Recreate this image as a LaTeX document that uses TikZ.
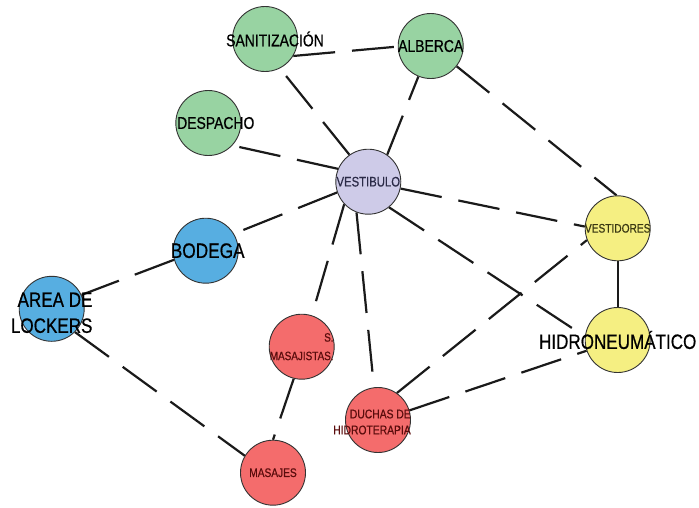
\documentclass[tikz,border=0pt]{standalone}
\usepackage{fontspec}
\newfontfamily\roomfont[FakeStretch=0.82,FakeBold=0.6]{Liberation Sans}
\usetikzlibrary{backgrounds}
\definecolor{rim}{HTML}{333333}
\definecolor{edge}{HTML}{1A1A1A}
\definecolor{mint}{HTML}{98D3A2}
\definecolor{sky}{HTML}{57AEE1}
\definecolor{coral}{HTML}{F46C6C}
\definecolor{lemon}{HTML}{F5EF82}
\definecolor{lilac}{HTML}{CECBE8}
\definecolor{maroon}{HTML}{5A0C0C}
\definecolor{olive}{HTML}{3A3812}
\definecolor{navy}{HTML}{2B2B47}
\newcommand\fsz[2]{\roomfont\fontsize{#1}{#2}\selectfont}
\tikzset{
  room/.style={circle,draw=rim,line width=.9pt,minimum size=65pt,inner sep=0pt},
  green/.style={room,fill=mint},
  blue/.style={room,fill=sky},
  red/.style={room,fill=coral},
  yellow/.style={room,fill=lemon},
  hall/.style={room,fill=lilac},
  link/.style={draw=edge,line width=2.2pt,dash pattern=on 42pt off 17pt},
  every label/.style={inner sep=0pt}}
\begin{document}
\begin{tikzpicture}[x=1pt,y=-1pt]
\useasboundingbox (0,0) rectangle (699,507);
% rooms
\node[green,label={[xshift=10pt,font=\fsz{17}{20}]center:SANITIZACIÓN}] (san) at (265,39) {};
\node[green,label={[font=\fsz{17}{20}]center:ALBERCA}] (alb) at (430.7,46) {};
\node[green,label={[xshift=7.5pt,font=\fsz{17}{20}]center:DESPACHO}] (desp) at (208.3,123) {};
\node[hall,label={[text=navy,font=\fsz{13.8}{16}]center:VESTIBULO}] (vest) at (368.3,181.7) {};
\node[blue,label={[xshift=2pt,font=\fsz{21}{25}]center:BODEGA}] (bod) at (205.7,250.7) {};
\node[blue,label={[yshift=-4pt,align=right,font=\fsz{20.8}{26}]center:AREA DE\\LOCKERS}] (lock) at (51.7,308.8) {};
\node[red,label={[text=maroon,align=right,font=\fsz{12.1}{18.5}]center:S.\\MASAJISTAS.}] (smas) at (301.7,346.7) {};
\node[red,label={[text=maroon,font=\fsz{12.4}{15}]center:MASAJES}] (mas) at (273,472.7) {};
\node[red,label={[xshift=-6pt,yshift=-2pt,text=maroon,align=right,font=\fsz{12.6}{16}]center:DUCHAS DE\\HIDROTERAPIA}] (duch) at (378,420) {};
\node[yellow,label={[text=olive,font=\fsz{12.4}{15}]center:VESTIDORES}] (vestd) at (617.7,228.3) {};
\node[yellow,label={[font=\fsz{20.8}{25}]center:HIDRONEUMÁTICO}] (hidro) at (617.7,340) {};
% links
\begin{scope}[on background layer]
\foreach \a/\b in {vest.125/san.-63,vest.55/alb.248,vest.157/desp.-43,vest.199/bod.31,
  vest.223/smas.72,vest.249/duch.97,vest.-12/vestd.177,vest.-51/hidro.174,
  san.-31/alb.181,alb.-38/vestd.92,bod.196/lock.25,lock.-45/mas.149,
  smas.256/mas.90,duch.55/vestd.201,duch.17/hidro.199}
  \draw[link] (\a) -- (\b);
\draw[link,solid] (vestd.south) -- (hidro.north);
\end{scope}
\end{tikzpicture}
\end{document}
